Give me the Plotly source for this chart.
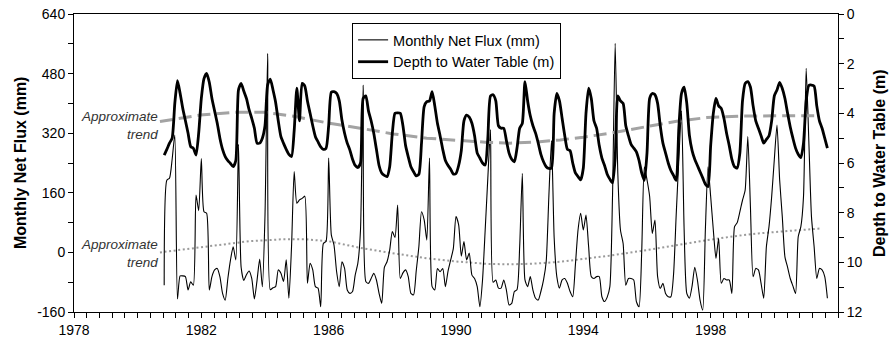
import plotly.graph_objects as go

# Monthly series start: November 1980, one value per month
START_YEAR = 1980
START_MONTH = 11

flux_mm = [
    -88, 194, 199, 250, 315, -125, -63, -63, -65, -101, -79, -88,
    154, 112, 252, 109, 105, -101, -65, -47, -43, -65, -110, -128,
    -70, -20, 15, -20, 290, -40, -75, -60, -50, -70, -125, -75,
    -18, -92, 100, 534, -100, -95, -92, -47, -56, -78, -20, -123,
    15, 217, 132, 141, 145, 151, -83, -29, -47, -92, -96, -146,
    24, 29, 253, 47, 20, -52, -92, -25, -43, -101, -110, -105,
    -61, -29, 60, 449, -78, -83, -70, -56, -74, -110, -137, -40,
    -25, 6, 56, 40, 127, -70, -55, -47, -65, -110, -114, -50,
    15, 109, 87, 33, 253, -92, -101, -43, -52, -43, -92, -50,
    -20, 11, 96, 74, -10, 29, -20, -2, -61, -70, -92, -146,
    -74, 60, 200, 330, -80, -74, -96, -96, -74, -101, -141, -137,
    -105, -100, 15, 212, -74, -92, -65, -101, -123, -128, -105, -74,
    -25, 150, 300, 40, -65, -96, -74, -70, -83, -105, -119, -34,
    60, 105, 60, 100, 15, -65, -70, -65, -65, -119, -132, -120,
    -92, 150, 561, 212, 60, 24, -88, -70, -70, -74, -132, -146,
    0, 230, 195, 150, 51, 87, -65, -97, -83, -110, -119, -119,
    -60, 100, 250, 380, 60, -110, -123, -90, -40, -74, -128, -155,
    60, 230, 150, 60, -16, 38, -83, -70, -74, -74, -110, 69,
    80, 109, 140, 167, 311, 120, -65, -43, -47, -83, -123, 15,
    70, 150, 250, 342, 195, 96, -12, -40, -70, -90, -110, 42,
    69, 150, 494, 300, 96, 15, -70, -43, -47, -65, -123,
]

depth_m = [
    5.68, 5.45, 5.2, 5.0, 3.6, 2.68, 3.19, 3.8, 4.3, 4.8, 5.34, 5.41,
    5.68, 4.8, 3.4, 2.6, 2.39, 2.75, 3.4, 3.9, 4.4, 5.0, 5.45, 5.74,
    5.9, 6.02, 6.15, 5.9, 3.06, 2.79, 3.1, 3.4, 3.85, 4.2, 4.6, 5.2,
    5.2, 5.0, 4.5, 2.85, 2.62, 3.05, 3.55, 4.3, 4.94, 5.21, 5.45, 5.65,
    5.74, 4.7, 2.99, 4.3, 2.79, 2.9, 3.5, 4.0, 4.5, 4.94, 5.15, 5.35,
    5.45, 5.41, 4.5, 3.15, 3.13, 3.2, 3.5, 4.27, 4.8, 5.2, 5.48, 5.85,
    6.1, 6.18, 6.0, 3.4, 3.3, 3.9, 4.3, 4.8, 5.45, 6.1, 6.4, 6.5,
    6.55, 6.15, 4.8, 4.0, 3.98, 4.0, 4.5, 5.3, 5.75, 6.15, 6.35, 6.52,
    6.45, 5.2, 3.73, 3.53, 3.5, 3.13, 3.7, 4.4, 4.9, 5.45, 5.9, 6.1,
    6.25, 6.45, 6.42, 6.1, 5.5, 4.3, 4.07, 4.15, 4.4, 4.9, 5.6, 5.8,
    6.0, 6.08, 5.0, 3.3, 3.25, 3.5, 4.5, 4.6, 4.6, 5.1, 5.6, 5.85,
    5.95, 5.4, 4.6, 4.4, 2.72, 3.5, 4.1, 4.5, 4.8, 5.2, 5.65, 5.95,
    6.15, 6.22, 6.2, 4.0, 3.2, 3.5, 4.2, 4.9, 5.45, 5.5, 6.0, 6.4,
    6.55, 6.68, 6.2, 4.0, 2.99, 3.4, 4.3, 4.6, 5.3, 5.8, 6.1, 6.45,
    6.65, 6.8, 5.8, 3.3, 3.5, 3.6, 4.5, 4.9, 5.25, 5.4, 5.55, 5.9,
    6.4, 6.7, 5.6, 3.4, 3.2, 3.25, 3.6, 4.5, 5.2, 5.6, 6.0, 6.3,
    6.5, 6.7, 4.6, 3.2, 2.95, 3.6, 4.9, 5.5, 5.85, 6.1, 6.35, 6.6,
    6.85, 6.95, 5.3, 4.0, 3.4, 3.7, 3.8, 4.2, 4.8, 5.3, 5.85, 6.15,
    6.2, 5.6, 3.5, 2.8, 2.72, 2.95, 3.7, 4.3, 4.6, 4.9, 5.2, 5.05,
    4.9, 4.3, 3.3, 3.06, 2.75, 3.0, 3.4, 4.0, 4.55, 5.0, 5.4, 5.65,
    5.78, 5.2, 3.5, 2.88, 2.86, 2.9, 3.7, 4.3, 4.6, 5.0, 5.4,
]

# Approximate trend lines
depth_trend_years = [1980.70, 1981.96, 1983.0, 1984.0, 1984.9, 1985.94, 1986.99,
                     1988.03, 1989.08, 1990.1, 1991.0, 1991.7, 1992.5, 1993.27,
                     1994.0, 1994.84, 1995.89, 1996.93, 1997.88, 1998.92,
                     1999.96, 2001.44]
depth_trend_m = [4.33, 4.07, 3.96, 3.96, 4.12, 4.38, 4.6, 4.83, 5.0, 5.1, 5.17,
                 5.2, 5.16, 5.07, 4.96, 4.8, 4.56, 4.32, 4.17, 4.11, 4.1, 4.1]

flux_trend_years = [1980.70, 1981.6, 1982.5, 1983.5, 1984.5, 1985.3, 1986.0,
                    1987.0, 1988.0, 1989.1, 1990.1, 1991.0, 1991.7, 1992.5,
                    1993.3, 1994.0, 1994.8, 1995.9, 1996.9, 1997.9, 1998.7,
                    1999.5, 2000.5, 2001.44]
flux_trend_mm = [0, 10, 20, 30, 35, 35, 30, 12, -2, -16, -25, -31, -32, -30,
                 -25, -18, -9, 5, 20, 33, 43, 51, 58, 64]

x_ticks = [1978, 1982, 1986, 1990, 1994, 1998]
left_ticks = [-160, 0, 160, 320, 480, 640]
right_ticks = [0, 2, 4, 6, 8, 10, 12]

months = [START_YEAR + (START_MONTH - 1) / 12 + k / 12 for k in range(len(flux_mm))]

FONT = "Arial, 'Liberation Sans', sans-serif"

FIG_W, FIG_H = 891, 342
M_L, M_R, M_T, M_B = 74, 53, 14, 30
PLOT_W = FIG_W - M_L - M_R

fig = go.Figure()
fig.add_trace(go.Scatter(
    x=depth_trend_years, y=depth_trend_m, yaxis="y2", mode="lines",
    line=dict(color="#a3a3a3", width=3, dash="13px,6px"), showlegend=False,
    hoverinfo="skip"))
fig.add_trace(go.Scatter(
    x=flux_trend_years, y=flux_trend_mm, mode="lines",
    line=dict(color="#9a9a9a", width=2, dash="2px,2.6px"), showlegend=False,
    hoverinfo="skip"))
fig.add_trace(go.Scatter(
    x=months, y=flux_mm, mode="lines", name="Monthly Net Flux (mm)",
    line=dict(color="black", width=1.1, shape="spline", smoothing=0.6)))
fig.add_trace(go.Scatter(
    x=months, y=depth_m, yaxis="y2", mode="lines", name="Depth to Water Table (m)",
    line=dict(color="black", width=2.8, shape="spline", smoothing=0.6)))

axis_common = dict(showgrid=False, zeroline=False, showline=True, linecolor="black",
                   linewidth=1, ticks="outside", tickcolor="black", ticklen=5,
                   automargin=False, ticklabeloverflow="allow",
                   tickfont=dict(family=FONT, size=14, color="black"))

fig.update_layout(
    width=FIG_W, height=FIG_H,
    margin=dict(l=M_L, r=M_R, t=M_T, b=M_B, autoexpand=False),
    paper_bgcolor="white", plot_bgcolor="white",
    font=dict(family=FONT, color="black"),
    hovermode=False,
    xaxis=dict(range=[1978, 2002], tickvals=x_ticks, ticktext=[str(v) for v in x_ticks],
               mirror=True,
               minor=dict(dtick=0.4, tick0=1978, ticks="outside", ticklen=5,
                          tickcolor="black", showgrid=False),
               **axis_common),
    yaxis=dict(range=[-160, 640], tickvals=left_ticks,
               ticktext=[str(v) for v in left_ticks],
               minor=dict(dtick=80, tick0=-160, ticks="outside", ticklen=5,
                          tickcolor="black", showgrid=False),
               **axis_common),
    yaxis2=dict(range=[12, 0], overlaying="y", side="right", tickvals=right_ticks,
                ticktext=[str(v) for v in right_ticks],
                minor=dict(dtick=1, tick0=0, ticks="outside", ticklen=5,
                           tickcolor="black", showgrid=False),
                **axis_common),
    legend=dict(x=0.364, y=0.97, xanchor="left", yanchor="top",
                bgcolor="white", bordercolor="black", borderwidth=1,
                font=dict(family=FONT, size=14.5, color="black"),
                tracegroupgap=0, itemwidth=30),
    showlegend=True,
)

title_font = dict(family=FONT, size=16, color="black")
fig.add_annotation(x=(20 - M_L) / PLOT_W, y=0.5, xref="paper", yref="paper",
                   xanchor="center", yanchor="middle", textangle=-90,
                   showarrow=False, text="<b>Monthly Net Flux (mm)</b>",
                   font=title_font)
fig.add_annotation(x=(879 - M_L) / PLOT_W, y=0.5, xref="paper", yref="paper",
                   xanchor="center", yanchor="middle", textangle=-90,
                   showarrow=False, text="<b>Depth to Water Table (m)</b>",
                   font=title_font)

ann_font = dict(family=FONT, size=13.5, color="#333333", style="italic")
fig.add_annotation(x=1980.7, y=4.47, xref="x", yref="y2", xanchor="right",
                   yanchor="middle", align="right", showarrow=False,
                   text="<i>Approximate</i><br><i>trend</i>", font=ann_font)
fig.add_annotation(x=1980.7, y=-4, xref="x", yref="y", xanchor="right",
                   yanchor="middle", align="right", showarrow=False,
                   text="<i>Approximate</i><br><i>trend</i>", font=ann_font)

# Remove the browser's default 8 px page margin so the figure fills the window
fig.write_html("out.html",
               config={"displayModeBar": False, "staticPlot": True},
               post_script="document.body.style.margin='0';"
                           "document.body.style.overflow='hidden';")
